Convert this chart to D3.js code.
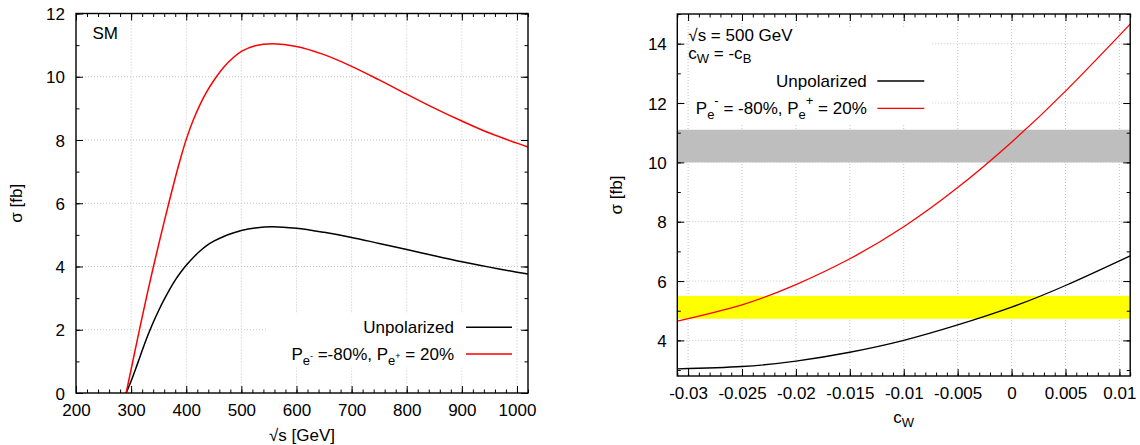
<!DOCTYPE html>
<html>
<head>
<meta charset="utf-8">
<script src="https://cdn.jsdelivr.net/npm/d3@7"></script>
<style>
  body { margin: 0; background: #fff; }
  svg { font-family: "Liberation Sans", Arial, sans-serif; }
  .grid line { stroke: #c4c4c4; stroke-width: 1; stroke-dasharray: 1,2; }
</style>
</head>
<body>
<div id="chart"></div>
<script>
// ---- data: left panel (SM cross section vs sqrt(s)) ----
const energy   = [291, 300, 310, 320, 330, 340, 350, 360, 370, 380, 390, 400, 412, 425, 437, 450, 468, 485, 500, 525, 556, 600, 650, 700, 750, 800, 850, 900, 950, 1000, 1020];
const smUnpol  = [0, 0.38, 0.85, 1.34, 1.81, 2.23, 2.61, 2.96, 3.28, 3.57, 3.82, 4.04, 4.27, 4.49, 4.66, 4.8, 4.95, 5.06, 5.14, 5.22, 5.26, 5.21, 5.08, 4.92, 4.73, 4.54, 4.34, 4.15, 3.98, 3.82, 3.76];
const smPol    = [0, 0.75, 1.58, 2.4, 3.2, 3.96, 4.7, 5.42, 6.12, 6.8, 7.44, 8.02, 8.6, 9.12, 9.52, 9.88, 10.3, 10.6, 10.8, 10.98, 11.04, 10.96, 10.7, 10.33, 9.9, 9.45, 9.01, 8.6, 8.22, 7.9, 7.78];
const energyTicks = [200, 300, 400, 500, 600, 700, 800, 900, 1000];
const sigmaTicksL = [0, 2, 4, 6, 8, 10, 12];

// ---- data: right panel (cross section vs c_W at 500 GeV) ----
const cw       = [-0.031, -0.025, -0.02, -0.015, -0.01, -0.005, 0, 0.005, 0.011];
const cwUnpol  = [3.04, 3.12, 3.3, 3.6, 4.0, 4.52, 5.12, 5.85, 6.85];
const cwPol    = [4.65, 5.2, 5.88, 6.75, 7.83, 9.15, 10.68, 12.4, 14.66];
const unpolBand = [4.73, 5.5];
const polBand   = [10.0, 11.1];
const cwTicks  = [-0.03, -0.025, -0.02, -0.015, -0.01, -0.005, 0, 0.005, 0.01];
const cwTickLabels = ["-0.03", "-0.025", "-0.02", "-0.015", "-0.01", "-0.005", "0", "0.005", "0.01"];
const sigmaTicksR = [4, 6, 8, 10, 12, 14];

const svg = d3.select("#chart").append("svg")
    .attr("width", 1140)
    .attr("height", 445);

const fontSize = 17;
const subSize = 13;

// dotted grid at the major ticks
function drawGrid(g, x, y, w, h, xTicks, yTicks) {
    const grid = g.append("g").attr("class", "grid");
    grid.selectAll(".gx").data(xTicks.filter(t => x(t) > 1 && x(t) < w - 1))
        .join("line")
        .attr("x1", d => x(d)).attr("x2", d => x(d))
        .attr("y1", 0).attr("y2", h);
    grid.selectAll(".gy").data(yTicks.filter(t => y(t) > 1 && y(t) < h - 1))
        .join("line")
        .attr("x1", 0).attr("x2", w)
        .attr("y1", d => y(d)).attr("y2", d => y(d));
}

// inward ticks on all four sides, like gnuplot
function drawTicks(g, x, y, w, h, opt) {
    const major = 7, minor = 3.5;
    const styleAxis = sel => {
        sel.select(".domain").remove();
        sel.selectAll("line").attr("stroke", "#000").attr("stroke-width", 1);
    };
    // bottom
    g.append("g").attr("transform", `translate(0,${h})`)
        .call(d3.axisBottom(x).tickValues(opt.xMinor).tickSize(-minor).tickFormat(""))
        .call(styleAxis);
    const bx = g.append("g").attr("transform", `translate(0,${h})`)
        .call(d3.axisBottom(x).tickValues(opt.xTicks).tickSize(-major).tickFormat(opt.xFormat))
        .call(styleAxis);
    bx.selectAll("text")
        .attr("y", opt.xLabelY).attr("dy", null)
        .attr("font-size", fontSize).attr("font-family", null).attr("fill", "#000");
    // top
    g.append("g")
        .call(d3.axisTop(x).tickValues(opt.xMinor).tickSize(-minor).tickFormat(""))
        .call(styleAxis);
    g.append("g")
        .call(d3.axisTop(x).tickValues(opt.xTicks).tickSize(-major).tickFormat(""))
        .call(styleAxis);
    // left
    g.append("g")
        .call(d3.axisLeft(y).tickValues(opt.yMinor).tickSize(-minor).tickFormat(""))
        .call(styleAxis);
    const ly = g.append("g")
        .call(d3.axisLeft(y).tickValues(opt.yTicks).tickSize(-major).tickFormat(d3.format("d")))
        .call(styleAxis);
    ly.selectAll("text")
        .attr("x", -opt.yLabelGap).attr("dy", "0.36em")
        .attr("font-size", fontSize).attr("font-family", null).attr("fill", "#000");
    // right
    g.append("g").attr("transform", `translate(${w},0)`)
        .call(d3.axisRight(y).tickValues(opt.yMinor).tickSize(-minor).tickFormat(""))
        .call(styleAxis);
    g.append("g").attr("transform", `translate(${w},0)`)
        .call(d3.axisRight(y).tickValues(opt.yTicks).tickSize(-major).tickFormat(""))
        .call(styleAxis);
    // frame
    g.append("rect")
        .attr("width", w).attr("height", h)
        .attr("fill", "none").attr("stroke", "#000").attr("stroke-width", 1.4);
}

// P_e^- / P_e^+ legend label with sub/superscripts
function polLabel(text, parts, supSize, supDy) {
    text.append("tspan").text("P");
    text.append("tspan").attr("font-size", subSize).attr("dy", 5).text("e");
    text.append("tspan").attr("font-size", supSize).attr("dy", supDy).text("-");
    text.append("tspan").attr("dy", -5 - supDy).text(parts[0] + "P");
    text.append("tspan").attr("font-size", subSize).attr("dy", 5).text("e");
    text.append("tspan").attr("font-size", supSize).attr("dy", supDy).text("+");
    text.append("tspan").attr("dy", -5 - supDy).text(parts[1]);
}

// ================= LEFT PANEL =================
{
    const left = 76, top = 13.5, w = 452, h = 379.5;
    const g = svg.append("g").attr("transform", `translate(${left},${top})`);

    const x = d3.scaleLinear().domain([200, 1020]).range([0, w]);
    const y = d3.scaleLinear().domain([0, 12]).range([h, 0]);

    drawGrid(g, x, y, w, h, energyTicks, sigmaTicksL);

    // key box hides the grid
    g.append("rect")
        .attr("x", 192).attr("y", 300).attr("width", 248).attr("height", 54)
        .attr("fill", "#fff");

    const line = d3.line().x(d => x(d[0])).y(d => y(d[1])).curve(d3.curveCatmullRom.alpha(0.5));
    g.append("path").datum(d3.zip(energy, smUnpol))
        .attr("d", line).attr("fill", "none").attr("stroke", "#000").attr("stroke-width", 1.5);
    g.append("path").datum(d3.zip(energy, smPol))
        .attr("d", line).attr("fill", "none").attr("stroke", "#ff0000").attr("stroke-width", 1.5);

    drawTicks(g, x, y, w, h, {
        xTicks: energyTicks,
        xMinor: d3.range(200, 1021, 20),
        xFormat: d3.format("d"),
        xLabelY: 23,
        yTicks: sigmaTicksL,
        yMinor: d3.range(0, 12.1, 1),
        yLabelGap: 11
    });

    // "SM" label
    g.append("text").attr("x", 16.5).attr("y", 25.5)
        .attr("font-size", fontSize).text("SM");

    // legend
    g.append("text").attr("x", 378).attr("y", 319.5)
        .attr("text-anchor", "end").attr("font-size", fontSize).text("Unpolarized");
    g.append("line").attr("x1", 390).attr("x2", 436).attr("y1", 313.8).attr("y2", 313.8)
        .attr("stroke", "#000").attr("stroke-width", 1.5);
    const lt = g.append("text").attr("x", 378).attr("y", 346)
        .attr("text-anchor", "end").attr("font-size", fontSize);
    polLabel(lt, [" =-80%, ", " = 20%"], 9, -6);
    g.append("line").attr("x1", 390).attr("x2", 436).attr("y1", 340.5).attr("y2", 340.5)
        .attr("stroke", "#ff0000").attr("stroke-width", 1.5);

    // axis titles
    svg.append("text")
        .attr("x", left + w / 2).attr("y", 441)
        .attr("text-anchor", "middle").attr("font-size", fontSize)
        .text("\u221As [GeV]");
    svg.append("text")
        .attr("transform", `translate(22,${top + h / 2}) rotate(-90)`)
        .attr("text-anchor", "middle").attr("font-size", fontSize)
        .text("\u03C3 [fb]");
}

// ================= RIGHT PANEL =================
{
    const left = 677.3, top = 14, w = 452.9, h = 362;
    const g = svg.append("g").attr("transform", `translate(${left},${top})`);

    const x = d3.scaleLinear().domain([-0.031, 0.011]).range([0, w]);
    const y = d3.scaleLinear().domain([2.8, 15]).range([h, 0]);

    drawGrid(g, x, y, w, h, cwTicks, sigmaTicksR);

    // measurement bands
    g.append("rect")
        .attr("x", 0).attr("width", w)
        .attr("y", y(polBand[1])).attr("height", y(polBand[0]) - y(polBand[1]))
        .attr("fill", "#bebebe");
    g.append("rect")
        .attr("x", 0).attr("width", w)
        .attr("y", y(unpolBand[1])).attr("height", y(unpolBand[0]) - y(unpolBand[1]))
        .attr("fill", "#ffff00");

    // key box hides the grid
    g.append("rect")
        .attr("x", 12).attr("y", 13).attr("width", 243).attr("height", 96)
        .attr("fill", "#fff");

    const line = d3.line().x(d => x(d[0])).y(d => y(d[1])).curve(d3.curveNatural);
    g.append("path").datum(d3.zip(cw, cwUnpol))
        .attr("d", line).attr("fill", "none").attr("stroke", "#000").attr("stroke-width", 1.3);
    g.append("path").datum(d3.zip(cw, cwPol))
        .attr("d", line).attr("fill", "none").attr("stroke", "#ff0000").attr("stroke-width", 1.3);

    drawTicks(g, x, y, w, h, {
        xTicks: cwTicks,
        xMinor: d3.range(-31, 11.5, 1).map(d => d / 1000),
        xFormat: (d, i) => cwTickLabels[i],
        xLabelY: 23,
        yTicks: sigmaTicksR,
        yMinor: d3.range(3, 15.1, 1),
        yLabelGap: 10.5
    });

    // annotations
    g.append("text").attr("x", 11).attr("y", 26.5)
        .attr("font-size", fontSize).text("\u221As = 500 GeV");
    const cwText = g.append("text").attr("x", 11).attr("y", 45)
        .attr("font-size", fontSize);
    cwText.append("tspan").text("c");
    cwText.append("tspan").attr("font-size", subSize).attr("dy", 4).text("W");
    cwText.append("tspan").attr("dy", -4).text(" = -c");
    cwText.append("tspan").attr("font-size", subSize).attr("dy", 4).text("B");

    // legend
    g.append("text").attr("x", 189.5).attr("y", 73)
        .attr("text-anchor", "end").attr("font-size", fontSize).text("Unpolarized");
    g.append("line").attr("x1", 200).attr("x2", 247).attr("y1", 67).attr("y2", 67)
        .attr("stroke", "#000").attr("stroke-width", 1.3);
    const lt = g.append("text").attr("x", 189.5).attr("y", 100)
        .attr("text-anchor", "end").attr("font-size", fontSize);
    polLabel(lt, [" = -80%, ", " = 20%"], 13, -14);
    g.append("line").attr("x1", 200).attr("x2", 247).attr("y1", 94.3).attr("y2", 94.3)
        .attr("stroke", "#ff0000").attr("stroke-width", 1.3);

    // axis titles
    const xt = svg.append("text")
        .attr("x", left + w / 2).attr("y", 423)
        .attr("text-anchor", "middle").attr("font-size", fontSize);
    xt.append("tspan").text("c");
    xt.append("tspan").attr("font-size", subSize).attr("dy", 4).text("W");
    svg.append("text")
        .attr("transform", `translate(622,${top + h / 2}) rotate(-90)`)
        .attr("text-anchor", "middle").attr("font-size", fontSize)
        .text("\u03C3 [fb]");
}
</script>
</body>
</html>
